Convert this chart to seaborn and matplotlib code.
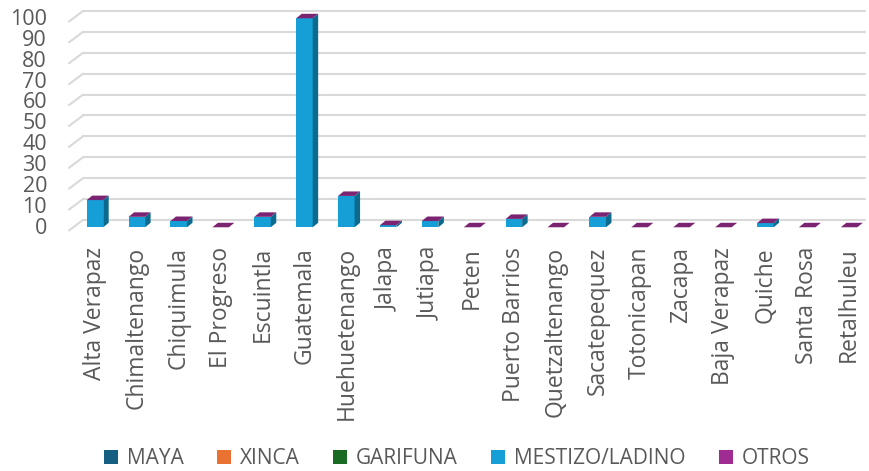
import matplotlib
matplotlib.use("Agg")
import matplotlib.pyplot as plt
import seaborn as sns
import numpy as np
from matplotlib.patches import Polygon, Patch

# datos
departamentos = ["Alta Verapaz", "Chimaltenango", "Chiquimula", "El Progreso", "Escuintla",
                 "Guatemala", "Huehuetenango", "Jalapa", "Jutiapa", "Peten", "Puerto Barrios",
                 "Quetzaltenango", "Sacatepequez", "Totonicapan", "Zacapa", "Baja Verapaz",
                 "Quiche", "Santa Rosa", "Retalhuleu"]
maya = [0] * 19
xinca = [0] * 19
garifuna = [0] * 19
mestizo = [13, 5, 3, 0, 5, 100, 15, 1, 3, 0, 4, 0, 5, 0, 0, 0, 2, 0, 0]
otros = [0] * 19

series = ["MAYA", "XINCA", "GARIFUNA", "MESTIZO/LADINO", "OTROS"]
valores = [maya, xinca, garifuna, mestizo, otros]
colores = ["#156082", "#E97132", "#196B24", "#159FD6", "#A02B93"]
lados = ["#0D3D54", "#9A4A20", "#104618", "#0B6A8E", "#6B1D62"]
techo = "#7B2572"

sns.set_theme(style="white")
plt.rcParams['font.family'] = ['Open Sans', 'DejaVu Sans']
gris = "#595959"

fig = plt.figure(figsize=(8.7, 4.71), dpi=100)
ax = fig.add_axes([74 / 870, (471 - 227.5) / 471, 796 / 870, 218.6 / 471])

px_x = 41.9      # pixeles por categoria
px_y = 2.09      # pixeles por unidad
dy_front = 7.3 / px_y
dx_top = 5.5 / px_x
dy_top = 4.5 / px_y
ancho = 16.5 / px_x

# rejilla de fondo con lineas diagonales
x_pared = -0.5 + 9 / px_x
x_fin = -0.5 + 791 / px_x
diag_dx = 14 / px_x
diag_dy = 10.5 / px_y
for g in range(0, 101, 10):
    ax.plot([x_pared, x_fin], [g, g], color="#D9D9D9", lw=1.5, zorder=0, clip_on=False)
    ax.plot([x_pared - diag_dx, x_pared], [g - diag_dy, g], color="#D9D9D9", lw=1.5,
            zorder=0, clip_on=False)
    ax.text(-0.5 - 27 / px_x, g - diag_dy + 1, str(g), ha="right", va="center",
            fontsize=15.5, color=gris, clip_on=False)

# barras apiladas
base = np.zeros(len(departamentos))
for nombre, vals, c, lado in zip(series, valores, colores, lados):
    n0 = len(ax.patches)
    sns.barplot(x=departamentos, y=vals, color=c, width=ancho, saturation=1, ax=ax,
                errorbar=None, zorder=2)
    nuevos = ax.patches[n0:]
    for p, b, v in zip(nuevos, base, vals):
        p.set_y(b - dy_front)
        p.set_linewidth(0)
        if v > 0:
            x1 = p.get_x() + p.get_width()
            lado_poly = Polygon([(x1, b - dy_front), (x1, b + v - dy_front),
                                 (x1 + dx_top, b + v - dy_front + dy_top),
                                 (x1 + dx_top, b - dy_front + dy_top)],
                                closed=True, facecolor=lado, edgecolor="none", zorder=2)
            ax.add_patch(lado_poly)
    base = base + np.array(vals)

# cara superior (serie OTROS arriba)
for i, tot in enumerate(base):
    x0 = i - ancho / 2
    x1 = i + ancho / 2
    top = Polygon([(x0, tot - dy_front), (x1, tot - dy_front),
                   (x1 + dx_top, tot - dy_front + dy_top), (x0 + dx_top, tot - dy_front + dy_top)],
                  closed=True, facecolor=techo, edgecolor="none", zorder=3)
    ax.add_patch(top)

ax.set_xlim(-0.5, 18.5)
ax.set_ylim(-3.6, 101)
ax.set_yticks([])
ax.tick_params(axis="x", length=0, pad=14, labelsize=16.5, labelcolor=gris, rotation=90)
for s in ax.spines.values():
    s.set_visible(False)
ax.patch.set_alpha(0)
ax.set_xlabel("")
ax.set_ylabel("")

handles = [Patch(facecolor=c, edgecolor="none", label=n) for n, c in zip(series, colores)]
leg = fig.legend(handles=handles, loc="center", bbox_to_anchor=(457 / 870, 12 / 471),
                 ncol=5, frameon=False, fontsize=15, handlelength=0.65, handleheight=0.65,
                 handletextpad=0.45, columnspacing=1.6)
for t in leg.get_texts():
    t.set_color(gris)

fig.savefig("out.png", dpi=100)
